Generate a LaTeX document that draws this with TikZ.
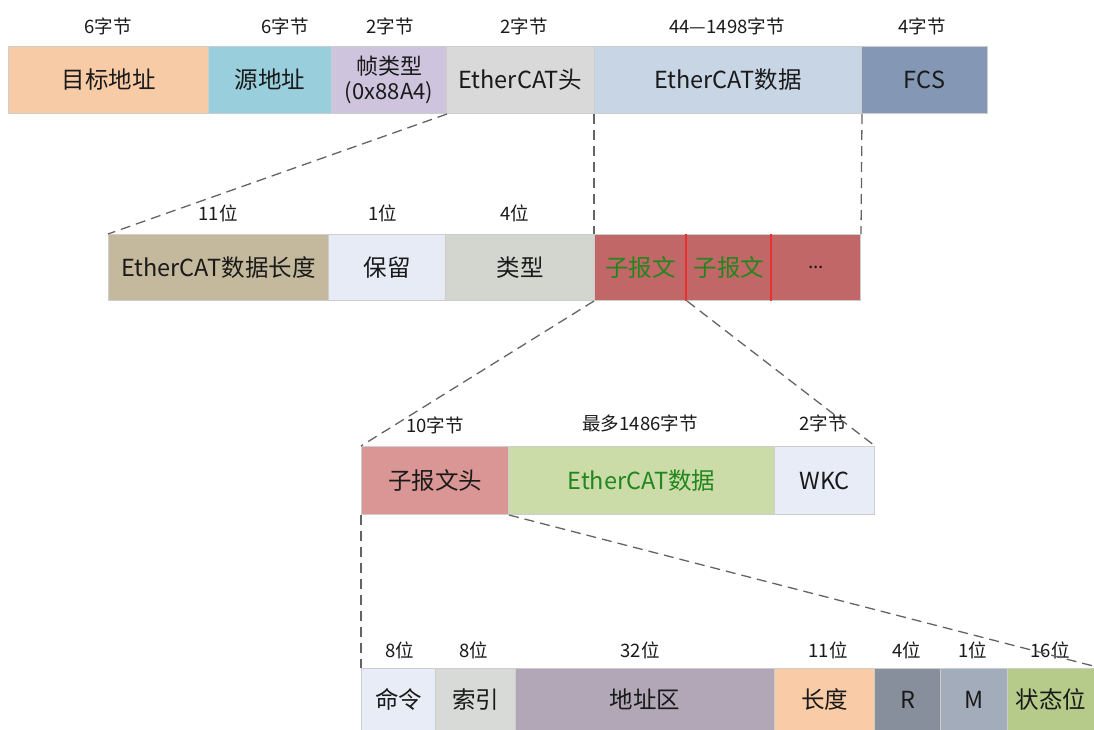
\documentclass[tikz,border=0pt]{standalone}
\usepackage{fontspec}
\setmainfont{Noto Sans CJK SC}
\definecolor{txt}{RGB}{26,26,26}
\definecolor{grn}{RGB}{34,134,30}
\definecolor{dashc}{RGB}{100,100,100}
\definecolor{bord}{RGB}{205,205,205}
\definecolor{cA}{RGB}{248,203,167}
\definecolor{cB}{RGB}{153,207,220}
\definecolor{cC}{RGB}{206,196,222}
\definecolor{cD}{RGB}{217,217,217}
\definecolor{cE}{RGB}{199,213,229}
\definecolor{cF}{RGB}{132,151,181}
\definecolor{cG}{RGB}{196,185,156}
\definecolor{cH}{RGB}{230,235,245}
\definecolor{cI}{RGB}{211,213,207}
\definecolor{cJ}{RGB}{194,103,103}
\definecolor{cRed}{RGB}{232,48,47}
\definecolor{cK}{RGB}{218,150,148}
\definecolor{cL}{RGB}{204,220,169}
\definecolor{cM}{RGB}{231,236,246}
\definecolor{cN}{RGB}{215,218,215}
\definecolor{cO}{RGB}{177,167,182}
\definecolor{cP}{RGB}{249,203,166}
\definecolor{cQ}{RGB}{136,143,156}
\definecolor{cR}{RGB}{162,172,187}
\definecolor{cS}{RGB}{182,203,138}
\begin{document}
\begin{tikzpicture}[x=1pt,y=-1pt,
  cell/.style={draw=bord, line width=1pt, inner sep=0pt, anchor=north west,
    font=\fontsize{23.5}{26}\selectfont, text=txt, align=center},
  lbl/.style={font=\fontsize{18.5}{20}\selectfont, text=txt, inner sep=0pt},
  conn/.style={draw=dashc, line width=1.3pt, dash pattern=on 10pt off 6pt}]
\clip (0,0) rectangle (1094,729);
\fill[white] (0,0) rectangle (1094,729);
% Row 1
\node[cell, fill=cA, minimum width=200, minimum height=67] (dst) at (8,46) {目标地址};
\node[cell, fill=cB, minimum width=123, minimum height=67] (src) at (208,46) {源地址};
\node[cell, fill=cC, minimum width=115, minimum height=67, font=\fontsize{22}{25.5}\selectfont] (ftype) at (331,46) {帧类型\\(0x88A4)};
\node[cell, fill=cD, minimum width=148, minimum height=67] (echdr) at (446,46) {EtherCAT头};
\node[cell, fill=cE, minimum width=267, minimum height=67] (ecdata) at (594,46) {EtherCAT数据};
\node[cell, fill=cF, minimum width=126, minimum height=67] (fcs) at (861,46) {FCS};
\node[lbl] (l1a) at (108,26) {6字节};
\node[lbl] (l1b) at (285,26) {6字节};
\node[lbl] (l1c) at (390,26) {2字节};
\node[lbl] (l1d) at (524,26) {2字节};
\node[lbl] (l1e) at (727,26) {44—1498字节};
\node[lbl] (l1f) at (922,26) {4字节};
% Row 2
\node[cell, fill=cG, minimum width=220, minimum height=66] (dlen) at (108,234) {EtherCAT数据长度};
\node[cell, fill=cH, minimum width=117, minimum height=66] (resv) at (328,234) {保留};
\node[cell, fill=cI, minimum width=149, minimum height=66] (typ) at (445,234) {类型};
\node[cell, fill=cJ, minimum width=92, minimum height=66, text=grn] (sub1) at (594,234) {子报文};
\node[cell, fill=cJ, minimum width=85, minimum height=66, text=grn] (sub2) at (686,234) {子报文};
\node[cell, fill=cJ, minimum width=89, minimum height=66] (dots) at (771,234) {\fontsize{19}{20}\selectfont ...};
\draw[cRed, line width=2.2pt] (sub2.north west) -- (sub2.south west);
\draw[cRed, line width=2.2pt] (dots.north west) -- (dots.south west);
\node[lbl] (l2a) at (218,213) {11位};
\node[lbl] (l2b) at (383,213) {1位};
\node[lbl] (l2c) at (515,213) {4位};
% Row 3
\node[cell, fill=cK, minimum width=147, minimum height=68] (shdr) at (361,446) {子报文头};
\node[cell, fill=cL, minimum width=266, minimum height=68, text=grn] (sdata) at (508,446) {EtherCAT数据};
\node[cell, fill=cM, minimum width=100, minimum height=68] (wkc) at (774,446) {WKC};
\node[lbl] (l3a) at (435,425) {10字节};
\node[lbl] (l3b) at (640,423) {最多1486字节};
\node[lbl] (l3c) at (823,423) {2字节};
% Row 4
\node[cell, fill=cM, minimum width=74, minimum height=62] (cmd) at (361,668) {命令};
\node[cell, fill=cN, minimum width=80, minimum height=62] (idx) at (435,668) {索引};
\node[cell, fill=cO, minimum width=259, minimum height=62] (addr) at (515,668) {地址区};
\node[cell, fill=cP, minimum width=100, minimum height=62] (len) at (774,668) {长度};
\node[cell, fill=cQ, minimum width=66, minimum height=62] (rr) at (874,668) {R};
\node[cell, fill=cR, minimum width=67, minimum height=62] (mm) at (940,668) {M};
\node[cell, fill=cS, minimum width=93, minimum height=62] (stat) at (1007,668) {状态位\hspace*{6pt}};
\node[lbl] (l4a) at (400,650) {8位};
\node[lbl] (l4b) at (474,650) {8位};
\node[lbl] (l4c) at (640,650) {32位};
\node[lbl] (l4d) at (828,650) {11位};
\node[lbl] (l4e) at (907,650) {4位};
\node[lbl] (l4f) at (973,650) {1位};
\node[lbl] (l4g) at (1050,650) {16位};
% Connectors
\draw[conn] (ftype.south east) -- (dlen.north west);
\draw[conn] (ecdata.south west) -- (sub1.north west);
\draw[conn] (ecdata.south east) -- (dots.north east);
\draw[conn] (sub1.south west) -- (shdr.north west);
\draw[conn] (sub1.south east) -- (wkc.north east);
\draw[conn] (shdr.south west) -- (cmd.north west);
\draw[conn] (shdr.south east) -- (stat.north east);
\end{tikzpicture}
\end{document}
